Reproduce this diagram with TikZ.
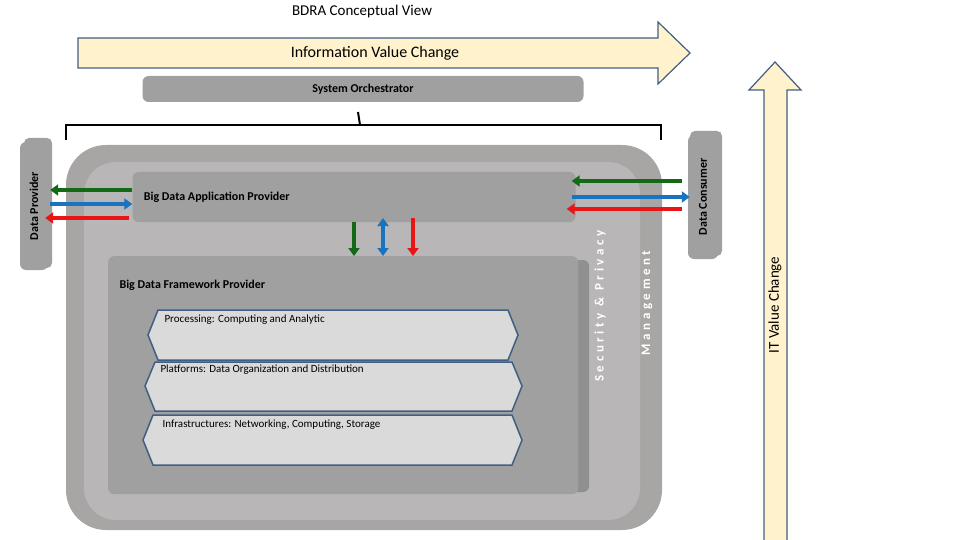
\documentclass[tikz,border=0pt]{standalone}
\usepackage{fontspec}
\setmainfont{Carlito}
\usetikzlibrary{arrows.meta,positioning,shapes,calc}
\definecolor{lyellow}{RGB}{255,242,204}
\definecolor{edgeblue}{RGB}{65,95,130}
\definecolor{gA}{RGB}{168,165,165}
\definecolor{gB}{RGB}{184,182,182}
\definecolor{gC}{RGB}{160,160,160}
\definecolor{gD}{RGB}{218,218,218}
\definecolor{dgreen}{RGB}{20,105,20}
\definecolor{mblue}{RGB}{25,115,190}
\definecolor{mred}{RGB}{235,20,20}
\newcommand{\fs}[1]{\fontsize{#1}{#1}\selectfont}
\tikzset{
  panel/.style = {fill = gC, rounded corners = 6pt, draw = none},
  layer/.style = {fill = gD, draw = edgeblue, line width = 1.5pt},
  flow/.style = {-{Triangle[length=8pt,width=11pt]}, line width = 4pt},
}
\begin{document}
\begin{tikzpicture}[x = 1pt, y = -1pt]
\useasboundingbox (0,0) rectangle (960,540);
\node[font = \fs{15}] (title) at (362,12) {BDRA Conceptual View};
% big arrows
\draw[fill = lyellow, draw = edgeblue, line width = 1.2pt] (78,38) -- (658,38) -- (658,22) -- (690,53) -- (658,84) -- (658,68) -- (78,68) -- cycle;
\node[font = \fs{16}] (ivc) at (375,53) {Information Value Change};
\draw[fill = lyellow, draw = edgeblue, line width = 1.2pt] (764,560) -- (764,90) -- (749,90) -- (775,62) -- (801,90) -- (787,90) -- (787,560) -- cycle;
\node[rotate = 90, font = \fs{15}] (itv) at (775,305) {IT Value Change};
% orchestrator and brace
\node[panel, minimum width = 441pt, minimum height = 26pt, font = \fs{12}\bfseries] (orch) at (363,89) {System Orchestrator};
\draw[line width = 2pt] (66,140) -- (66,125) -- (661,125) -- (661,140);
\draw[line width = 2pt] (360,125) -- (358,112);
% providers
\fill[gC, rounded corners = 5pt] (24,138) rectangle (52,268);
\node[panel, minimum width = 28pt, minimum height = 128pt] (dp) at (34,206) {};
\node[rotate = 90, font = \fs{12}\bfseries] at (dp) {Data Provider};
\fill[gC, rounded corners = 5pt] (690,131) rectangle (722,256);
\node[panel, minimum width = 30pt, minimum height = 124pt] (dc) at (703,197) {};
\node[rotate = 90, font = \fs{12}\bfseries] at (dc) {Data Consumer};
% management and security
\fill[gA, rounded corners = 40pt] (66,145) rectangle (662,530);
\fill[gB, rounded corners = 32pt] (84,162) rectangle (640,520);
\node[rotate = 90, font = \fs{13}\bfseries, white] (mgmt) at (647,303) {M\;a\;n\;a\;g\;e\;m\;e\;n\;t};
\node[rotate = 90, font = \fs{13}\bfseries, white] (sec) at (600,306) {S\;e\;c\;u\;r\;i\;t\;y \;\&\; P\;r\;i\;v\;a\;c\;y};
% application provider
\node[panel, minimum width = 443pt, minimum height = 50pt] (app) at (354,197) {};
\node[anchor = west, font = \fs{12}\bfseries] at (app.west) [xshift = 8pt] {Big Data Application Provider};
% framework provider
\fill[gC!90!black, rounded corners = 6pt] (114,260) rectangle (589,492);
\node[panel, minimum width = 470pt, minimum height = 238pt, anchor = north west] (fw) at (108,256) {};
\node[anchor = west, font = \fs{12}\bfseries] at (116,285) {Big Data Framework Provider};
\draw[layer] (158,310) -- (508,310) -- (518,335) -- (508,360) -- (158,360) -- (148,335) -- cycle;
\draw[layer] (155,362) -- (512,362) -- (522,386) -- (512,411) -- (155,411) -- (145,386) -- cycle;
\draw[layer] (153,415) -- (512,415) -- (522,440) -- (512,465) -- (153,465) -- (143,440) -- cycle;
\node[anchor = west, font = \fs{11}] (proc) at (161,320) {Processing: Computing and Analytic};
\node[anchor = west, font = \fs{11}] (plat) at (157,370) {Platforms: Data Organization and Distribution};
\node[anchor = west, font = \fs{11}] (infra) at (159,425) {Infrastructures: Networking, Computing, Storage};
% data flows
\draw[flow, dgreen] ($(app.west)+(0,-7)$) -- ($(dp.east)+(2,-16)$);
\draw[flow, mblue] ($(dp.east)+(2,-2)$) -- ($(app.west)+(0,7)$);
\draw[flow, mred] ($(app.west)+(-3,21)$) -- ($(dp.east)+(-3,12)$);
\draw[flow, dgreen] ($(dc.west)+(-6,-16)$) -- ($(app.east)+(-4,-16)$);
\draw[flow, mblue] ($(app.east)+(-4,0)$) -- ($(dc.west)+(2,0)$);
\draw[flow, mred] ($(dc.west)+(-6,12)$) -- ($(app.east)+(-9,12)$);
\draw[flow, dgreen] (354,222) -- (354,256);
\draw[flow, mblue, {Triangle[length=8pt,width=11pt]}-{Triangle[length=8pt,width=11pt]}] (383,218) -- (383,256);
\draw[flow, mred] (413,218) -- (413,256);
\end{tikzpicture}
\end{document}
